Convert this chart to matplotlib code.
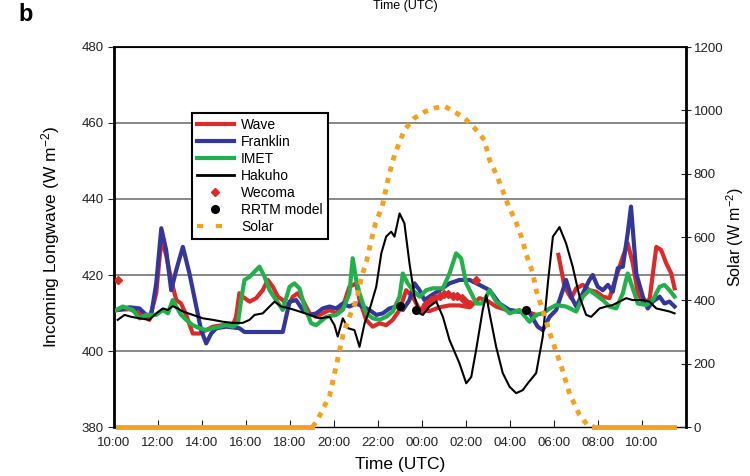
import numpy as np
import matplotlib
matplotlib.use("Agg")
import matplotlib.pyplot as plt
from matplotlib.lines import Line2D

plt.rcParams["font.family"] = ["Liberation Sans", "DejaVu Sans"]
plt.rcParams["mathtext.fontset"] = "custom"
plt.rcParams["mathtext.rm"] = "Liberation Sans"
plt.rcParams["mathtext.it"] = "Liberation Sans"

# time axis: hours since 10:00 UTC
wave_t = [0.17, 0.70, 1.01, 1.61, 1.92, 2.15, 2.37, 2.60, 2.83, 3.05, 3.28, 3.58, 3.89, 4.19, 4.49,
          4.95, 5.40, 5.55, 5.70, 5.85, 6.16, 6.46, 6.76, 6.99, 7.22, 7.45, 7.67, 7.90, 8.13, 8.35,
          8.58, 8.89, 9.19, 9.49, 9.80, 10.10, 10.40, 10.70, 11.01, 11.16, 11.46, 11.76, 12.07, 12.37,
          12.67, 12.98, 13.28, 13.58, 13.89, 14.34, 14.80, 15.25, 15.70, 16.16, 16.61, 16.92, 17.37,
          17.83, 18.28, 18.74, 19.19, 19.60, 20.20, 20.48, 20.78, 21.01, 21.31, 21.61, 21.92, 22.22,
          22.52, 22.83, 23.13, 23.35, 23.58, 23.81, 24.04, 24.34, 24.65, 24.87, 25.10, 25.33, 25.48]
wave_lw = [410.8, 411.0, 410.4, 408.2, 415.2, 429.2, 425.3, 418.7, 413.4, 412.5, 409.5, 404.6, 404.6,
           405.5, 406.4, 406.8, 406.8, 409.0, 415.2, 414.3, 413.0, 413.9, 416.0, 418.7, 416.9, 414.3,
           413.4, 411.7, 414.3, 415.2, 413.4, 409.9, 409.0, 409.9, 410.8, 409.9, 411.7, 416.9, 417.8,
           413.4, 408.2, 406.4, 407.3, 406.8, 408.2, 410.8, 416.0, 414.3, 410.8, 410.5, 411.5, 412.0,
           412.0, 411.5, 413.9, 413.4, 411.7, 410.8, 410.4, 410.4, 409.5, np.nan, 425.3, 416.9, 413.9,
           416.5, 417.4, 416.0, 415.6, 414.3, 413.9, 419.6, 424.8, 428.3, 423.1, 415.2, 413.0, 413.4,
           427.4, 426.6, 423.1, 420.4, 416.5]

franklin_t = [0.17, 0.70, 1.16, 1.46, 1.69, 1.92, 2.15, 2.37, 2.60, 2.83, 3.13, 3.43, 3.74, 3.96, 4.19,
              4.42, 4.65, 5.10, 5.70, 5.93, 7.67, 7.98, 8.28, 8.58, 8.89, 9.19, 9.49, 9.80, 10.10,
              10.40, 10.70, 11.01, 11.31, 11.61, 11.92, 12.22, 12.52, 12.83, 13.13, 13.43, 13.66,
              13.89, 14.11, 14.34, 14.80, 15.25, 15.70, 16.16, 16.61, 17.07, 17.52, 17.98, 18.43,
              18.89, 19.26, 19.49, 19.80, 20.10, 20.40, 20.55, 20.78, 21.01, 21.31, 21.61, 21.76,
              21.99, 22.22, 22.45, 22.67, 22.90, 23.13, 23.35, 23.50, 23.74, 24.04, 24.26, 24.49,
              24.80, 25.02, 25.25, 25.48]
franklin_lw = [410.8, 411.5, 411.2, 409.5, 409.5, 417.8, 432.3, 426.6, 416.0, 421.3, 427.4, 420.4,
               411.7, 405.5, 402.0, 404.6, 406.0, 406.4, 406.0, 405.0, 405.0, 413.0, 413.4, 410.8,
               409.5, 409.9, 411.2, 411.7, 411.2, 412.5, 411.7, 412.5, 411.7, 410.8, 409.5, 409.9,
               411.2, 411.7, 410.8, 413.4, 417.8, 416.0, 413.4, 414.3, 416.0, 417.8, 418.7, 418.7,
               417.4, 416.0, 412.5, 410.8, 410.4, 410.0, 406.4, 405.5, 409.0, 410.8, 416.0, 418.7,
               414.3, 411.7, 415.2, 418.7, 420.0, 416.9, 416.0, 417.4, 415.6, 421.8, 422.2, 431.0,
               438.0, 420.4, 414.3, 411.2, 413.0, 414.3, 412.5, 413.0, 411.7]

imet_t = [0.10, 0.40, 0.85, 1.16, 1.46, 1.92, 2.22, 2.45, 2.67, 2.83, 3.05, 3.28, 3.58, 3.89, 4.19,
          4.49, 4.80, 5.10, 5.40, 5.63, 5.78, 5.93, 6.16, 6.46, 6.61, 6.84, 7.07, 7.37, 7.67, 7.98,
          8.20, 8.43, 8.66, 8.96, 9.19, 9.65, 10.10, 10.40, 10.70, 10.85, 11.01, 11.16, 11.46, 11.76,
          12.07, 12.37, 12.67, 12.98, 13.13, 13.35, 13.58, 13.89, 14.19, 14.49, 14.95, 15.25, 15.55,
          15.78, 16.01, 16.24, 16.46, 16.76, 17.07, 17.37, 17.67, 17.98, 18.43, 18.89, 19.19, 19.49,
          19.80, 20.10, 20.55, 21.01, 21.31, 21.61, 21.92, 22.22, 22.52, 22.83, 23.13, 23.35, 23.58,
          23.81, 24.19, 24.49, 24.80, 25.02, 25.25, 25.48]
imet_lw = [410.8, 411.7, 410.8, 408.6, 409.5, 409.5, 410.8, 409.9, 413.4, 411.7, 409.5, 408.2, 406.8,
           406.0, 405.5, 406.0, 406.4, 406.8, 406.4, 407.3, 413.4, 418.7, 419.5, 421.3, 422.2, 419.6,
           416.0, 413.4, 410.8, 416.9, 417.8, 416.5, 411.7, 407.3, 406.8, 409.0, 409.5, 410.8, 415.2,
           424.4, 418.7, 415.2, 409.9, 408.6, 408.2, 409.0, 410.4, 414.3, 420.4, 417.8, 416.0, 414.3,
           416.0, 416.5, 416.5, 420.4, 425.7, 424.4, 417.8, 415.2, 412.5, 412.5, 416.0, 413.0, 411.7,
           409.9, 410.8, 407.7, 409.5, 409.9, 411.2, 412.1, 411.7, 410.4, 414.3, 416.0, 414.7, 413.4,
           411.7, 411.2, 415.2, 420.4, 416.5, 412.5, 412.1, 413.4, 416.9, 417.4, 416.0, 414.3]

hakuho_t = [0.17, 0.48, 0.78, 1.16, 1.61, 1.92, 2.22, 2.45, 2.67, 2.90, 3.13, 3.58, 4.04, 4.49, 4.95,
            5.40, 5.85, 6.16, 6.39, 6.76, 7.07, 7.30, 7.60, 7.98, 8.43, 8.89, 9.34, 9.80, 10.02, 10.17,
            10.40, 10.63, 10.93, 11.16, 11.39, 11.61, 11.92, 12.15, 12.37, 12.60, 12.75, 12.98, 13.20,
            13.43, 13.66, 13.89, 14.04, 14.34, 14.65, 14.95, 15.25, 15.70, 16.01, 16.24, 16.46, 16.76,
            16.92, 17.07, 17.37, 17.67, 17.98, 18.28, 18.58, 18.81, 19.19, 19.49, 19.72, 19.95, 20.25,
            20.55, 20.85, 21.16, 21.46, 21.69, 22.07, 22.37, 22.67, 22.98, 23.28, 23.58, 24.04, 24.34,
            24.65, 24.95, 25.25, 25.48]
hakuho_lw = [408.2, 409.5, 409.0, 408.6, 408.2, 409.9, 411.2, 410.8, 411.8, 411.2, 410.4, 409.5, 408.6,
             408.2, 407.7, 407.4, 407.4, 408.2, 409.5, 409.9, 411.7, 413.0, 411.7, 411.2, 410.4, 409.5,
             408.6, 409.0, 406.8, 403.8, 408.6, 406.0, 405.5, 401.1, 407.3, 410.8, 416.9, 425.7, 430.1,
             431.4, 430.1, 436.2, 433.6, 423.1, 414.3, 409.9, 409.5, 411.7, 413.0, 409.0, 402.9, 396.8,
             391.5, 393.2, 400.3, 410.8, 414.7, 409.9, 401.1, 394.2, 390.6, 388.9, 389.7, 391.5, 394.2,
             403.8, 417.8, 430.1, 432.6, 428.3, 422.2, 414.3, 409.5, 409.0, 411.2, 411.7, 412.1, 413.0,
             413.9, 413.4, 413.4, 413.0, 411.2, 410.8, 410.4, 409.9]

wecoma_t = [0.17, 14.00, 14.20, 14.40, 14.60, 14.80, 15.00, 15.20, 15.40, 15.60, 15.80, 16.00, 16.20, 16.46]
wecoma_lw = [418.7, 411.0, 412.5, 413.5, 414.0, 414.5, 415.0, 415.0, 414.5, 414.5, 414.0, 413.0, 412.5, 418.7]

rrtm_t = [12.98, 13.73, 18.74]
rrtm_lw = [411.8, 410.8, 410.8]

solar_t = [0.17, 9.02, 9.25, 9.48, 9.80, 10.11, 10.43, 10.70, 11.02, 11.25, 11.48, 11.70, 11.89, 12.20,
           12.48, 12.75, 13.20, 13.66, 14.11, 14.57, 15.02, 15.48, 15.93, 16.39, 16.84, 17.07, 17.39,
           17.66, 17.93, 18.25, 18.52, 18.75, 19.02, 19.20, 19.48, 19.89, 20.34, 20.70, 21.16, 21.52,
           21.84, 25.45]
solar_w = [0, 0, 22, 54, 99, 196, 297, 348, 400, 474, 524, 591, 644, 698, 790, 859, 938, 976, 995, 1007,
           1013, 995, 976, 944, 906, 843, 796, 748, 698, 652, 600, 543, 490, 430, 370, 280, 190, 107, 38,
           6, 0, 0]

tick_hours = list(range(0, 25, 2))
tick_labels = ["10:00", "12:00", "14:00", "16:00", "18:00", "20:00", "22:00",
               "00:00", "02:00", "04:00", "06:00", "08:00", "10:00"]

fig = plt.figure(figsize=(7.5, 4.76), dpi=100)
ax = fig.add_axes([114 / 750, 49 / 476, 572 / 750, 380 / 476])
ax2 = ax.twinx()

for v in [400, 420, 440, 460]:
    ax.axhline(v, color="#7f7f7f", lw=1.3, zorder=1)

ax.plot(wave_t, wave_lw, color="#dc2a2a", lw=3.0, zorder=3)
ax.plot(franklin_t, franklin_lw, color="#34379a", lw=3.0, zorder=4)
ax.plot(imet_t, imet_lw, color="#22b04b", lw=3.0, zorder=5)
ax.plot(hakuho_t, hakuho_lw, color="black", lw=1.5, zorder=6)
ax.plot(wecoma_t, wecoma_lw, ls="none", marker="D", ms=4.5, color="#dc2a2a", zorder=4)
ax.plot(rrtm_t, rrtm_lw, ls="none", marker="o", ms=5.5, color="black", zorder=7)

ax.set_xlim(0, 26)
ax.set_ylim(380, 480)
ax.set_yticks([380, 400, 420, 440, 460, 480])
ax.set_xticks(tick_hours)
ax.set_xticklabels(tick_labels)
ax.tick_params(axis="x", direction="in", length=5, pad=7, labelsize=9.5, colors="#222222")
ax.tick_params(axis="y", direction="out", length=4, labelsize=9.5, colors="#222222")
ax.spines["left"].set_linewidth(2)
ax.spines["bottom"].set_linewidth(1.0)
ax.spines["top"].set_linewidth(1.3)
ax.set_ylabel("Incoming Longwave (W m$^{-2}$)", fontsize=12.5, labelpad=14)
ax.set_xlabel("Time (UTC)", fontsize=12.5, labelpad=6)

# solar: daylight dotted, night-time zeros drawn solid along the axis
t = np.array(solar_t)
w = np.array(solar_w, dtype=float)
day = np.convolve(w > 0, [1, 1, 1], "same") > 0
ax2.plot(t, np.where(day, w, np.nan), color="#f5a020", lw=3.5,
         ls=(0, (1.1, 1.3)), zorder=3, clip_on=False)
ax2.plot(t, np.where(w == 0, w, np.nan), color="#f5a020", lw=3.5, zorder=3, clip_on=False)
ax2.set_ylim(0, 1200)
ax2.set_yticks(range(0, 1201, 200))
ax2.tick_params(axis="y", direction="inout", length=7, labelsize=9.5, colors="#222222", pad=2)
ax2.spines["right"].set_linewidth(2)
ax2.spines["bottom"].set_visible(False)
ax2.set_ylabel("Solar (W m$^{-2}$)", fontsize=11.5, labelpad=1)

handles = [
    Line2D([], [], color="#dc2a2a", lw=3.0),
    Line2D([], [], color="#34379a", lw=3.0),
    Line2D([], [], color="#22b04b", lw=3.0),
    Line2D([], [], color="black", lw=2.0),
    Line2D([], [], ls="none", marker="D", ms=4.5, color="#dc2a2a"),
    Line2D([], [], ls="none", marker="o", ms=5.5, color="black"),
    Line2D([], [], color="#f5a020", lw=3.0, ls=(0, (1.5, 3))),
]
labels = ["Wave", "Franklin", "IMET", "Hakuho", "Wecoma", "RRTM model", "Solar"]
leg = ax2.legend(handles, labels, loc="upper left", bbox_to_anchor=(0.136, 0.826),
                 fontsize=10, frameon=True, fancybox=False, framealpha=1,
                 edgecolor="black", handlelength=2.7, handletextpad=0.5,
                 labelspacing=0.22, borderpad=0.35, borderaxespad=0)
leg.get_frame().set_linewidth(1.5)

fig.text(0.025, 0.955, "b", fontsize=17, fontweight="bold")
fig.text(0.54, 0.999, "Time (UTC)", fontsize=9, ha="center", va="top")

fig.savefig("out.png", dpi=100)
